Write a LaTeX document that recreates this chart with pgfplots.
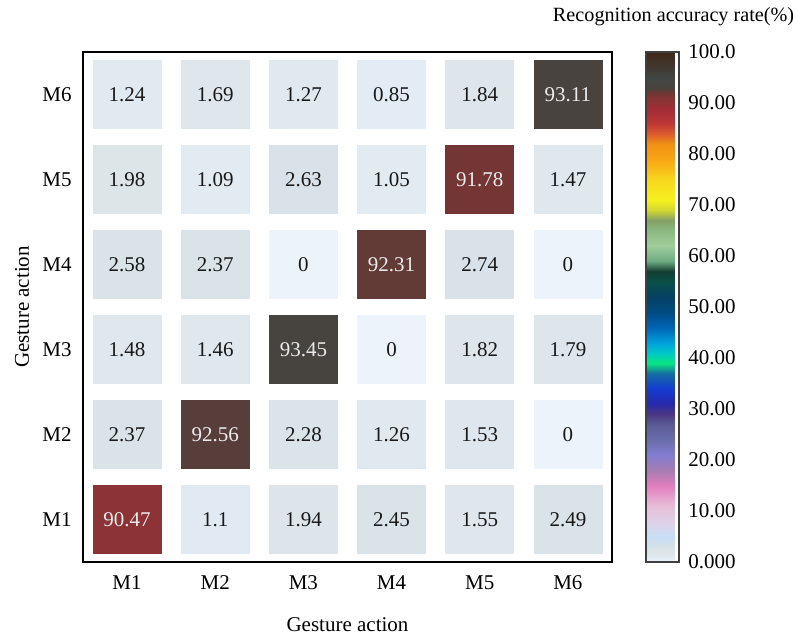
\documentclass[border=0pt]{standalone}
\usepackage{pgfplots}
\pgfplotsset{compat=1.18}
\usepackage{fontspec}
\setmainfont{Liberation Serif}
\pgfplotstableread{
x y v
1 6 1.24
2 6 1.69
3 6 1.27
4 6 0.85
5 6 1.84
1 5 1.98
2 5 1.09
3 5 2.63
4 5 1.05
6 5 1.47
1 4 2.58
2 4 2.37
3 4 0
5 4 2.74
6 4 0
1 3 1.48
2 3 1.46
4 3 0
5 3 1.82
6 3 1.79
1 2 2.37
3 2 2.28
4 2 1.26
5 2 1.53
6 2 0
2 1 1.1
3 1 1.94
4 1 2.45
5 1 1.55
6 1 2.49
}\offdiag
\pgfplotstableread{
x y v
6 6 93.11
5 5 91.78
4 4 92.31
3 3 93.45
2 2 92.56
1 1 90.47
}\diag
\pgfplotsset{
  colormap={acc}{
    rgb255=(236,243,251) rgb255=(226,234,243) rgb255=(221,229,233) rgb255=(214,225,231) rgb255=(207,224,238)
    rgb255=(200,222,245) rgb255=(207,217,241) rgb255=(215,213,236) rgb255=(222,208,232) rgb255=(225,202,226)
    rgb255=(229,196,221) rgb255=(232,190,215) rgb255=(230,174,209) rgb255=(229,158,203) rgb255=(227,141,196)
    rgb255=(225,125,190) rgb255=(205,125,185) rgb255=(185,125,180) rgb255=(165,125,175) rgb255=(153,125,187)
    rgb255=(142,125,198) rgb255=(130,125,210) rgb255=(122,120,197) rgb255=(113,115,183) rgb255=(105,110,170)
    rgb255=(100,103,163) rgb255=(95,97,157) rgb255=(90,90,150) rgb255=(83,73,140) rgb255=(75,55,130)
    rgb255=(58,48,150) rgb255=(40,40,170) rgb255=(33,47,183) rgb255=(27,53,197) rgb255=(20,60,210)
    rgb255=(20,77,193) rgb255=(20,93,177) rgb255=(20,110,160) rgb255=(15,170,145) rgb255=(10,230,130)
    rgb255=(5,215,165) rgb255=(0,200,200) rgb255=(0,180,210) rgb255=(0,160,220) rgb255=(0,140,207)
    rgb255=(0,120,193) rgb255=(0,100,180) rgb255=(0,92,163) rgb255=(0,83,147) rgb255=(0,75,130)
    rgb255=(2,72,120) rgb255=(3,68,110) rgb255=(5,65,100) rgb255=(7,70,90) rgb255=(8,75,80)
    rgb255=(10,80,70) rgb255=(15,70,60) rgb255=(20,60,50) rgb255=(65,115,90) rgb255=(110,170,130)
    rgb255=(127,182,138) rgb255=(143,193,147) rgb255=(160,205,155) rgb255=(153,198,147) rgb255=(147,192,138)
    rgb255=(140,185,130) rgb255=(135,173,115) rgb255=(130,160,100) rgb255=(170,188,75) rgb255=(210,215,50)
    rgb255=(228,228,40) rgb255=(245,240,30) rgb255=(246,234,30) rgb255=(246,228,30) rgb255=(247,221,30)
    rgb255=(248,215,30) rgb255=(248,202,28) rgb255=(248,188,25) rgb255=(248,177,23) rgb255=(248,165,20)
    rgb255=(245,158,20) rgb255=(243,152,20) rgb255=(240,145,20) rgb255=(230,118,33) rgb255=(220,90,45)
    rgb255=(205,73,50) rgb255=(190,55,55) rgb255=(180,52,55) rgb255=(170,48,55) rgb255=(160,45,55)
    rgb255=(145,50,53) rgb255=(133,52,52) rgb255=(110,55,52) rgb255=(72,67,62) rgb255=(69,69,65)
    rgb255=(65,70,68) rgb255=(65,63,58) rgb255=(65,56,48) rgb255=(65,51,40) rgb255=(64,45,32)
    rgb255=(64,40,24)
  },
}
\begin{document}
\fontsize{10.5}{12.6}\selectfont
\begin{tikzpicture}
\useasboundingbox (-41.5pt,-38.5pt) rectangle (357.5pt,281pt);
\begin{axis}[
  name=main, at={(0,0)}, anchor=south west,
  scale only axis, width=264.5pt, height=255pt,
  xmin=0.5, xmax=6.5, ymin=0.5, ymax=6.5,
  xtick={1,2,3,4,5,6}, ytick={1,2,3,4,5,6},
  xticklabels={M1,M2,M3,M4,M5,M6},
  yticklabels={M1,M2,M3,M4,M5,M6},
  major tick length=0pt,
  axis line style={line width=1pt},
  xticklabel style={yshift=-3pt},
  yticklabel style={xshift=-2pt},
  xlabel={Gesture action}, ylabel={Gesture action},
  xlabel style={at={([yshift=-31.5pt]axis description cs:0.5,0)}, anchor=center},
  ylabel style={at={([xshift=-30.5pt]axis description cs:0,0.5)}, anchor=center},
  /pgf/number format/assume math mode=true,
  colormap name=acc,
  point meta min=0, point meta max=100,
  colorbar,
  colorbar style={
    at={(parent axis.south east)}, anchor=south west, xshift=8.5pt,
    scale only axis, width=16.5pt, height=255pt,
    ytick={0,10,20,30,40,50,60,70,80,90,100},
    yticklabels={0.000,10.00,20.00,30.00,40.00,50.00,60.00,70.00,80.00,90.00,100.0},
    major tick length=0pt,
    axis line style={draw=black!75, line width=0.6pt},
    yticklabel style={xshift=1pt},
    title={Recognition accuracy rate(\%)},
    title style={at={(0.5,1)}, anchor=center, inner sep=0pt, yshift=11.5pt, xshift=5.5pt,
      font=\fontsize{10.1}{12}\selectfont},
  },
]
\addplot[scatter, only marks, mark=square*, mark size=17pt,
  scatter/use mapped color={draw=mapped color, fill=mapped color},
  point meta=explicit]
  table[x=x, y=y, meta=v] {\offdiag};
\addplot[scatter, only marks, mark=square*, mark size=17pt,
  scatter/use mapped color={draw=mapped color, fill=mapped color},
  point meta=explicit]
  table[x=x, y=y, meta=v] {\diag};
\addplot[only marks, mark=none, point meta=explicit,
  nodes near coords={\pgfmathprintnumber[fixed,precision=2]{\pgfplotspointmeta}},
  nodes near coords style={anchor=center, text=black!90}]
  table[x=x, y=y, meta=v] {\offdiag};
\addplot[only marks, mark=none, point meta=explicit,
  nodes near coords={\pgfmathprintnumber[fixed,precision=2]{\pgfplotspointmeta}},
  nodes near coords style={anchor=center, text=white!92!black}]
  table[x=x, y=y, meta=v] {\diag};
\end{axis}
\end{tikzpicture}
\end{document}
